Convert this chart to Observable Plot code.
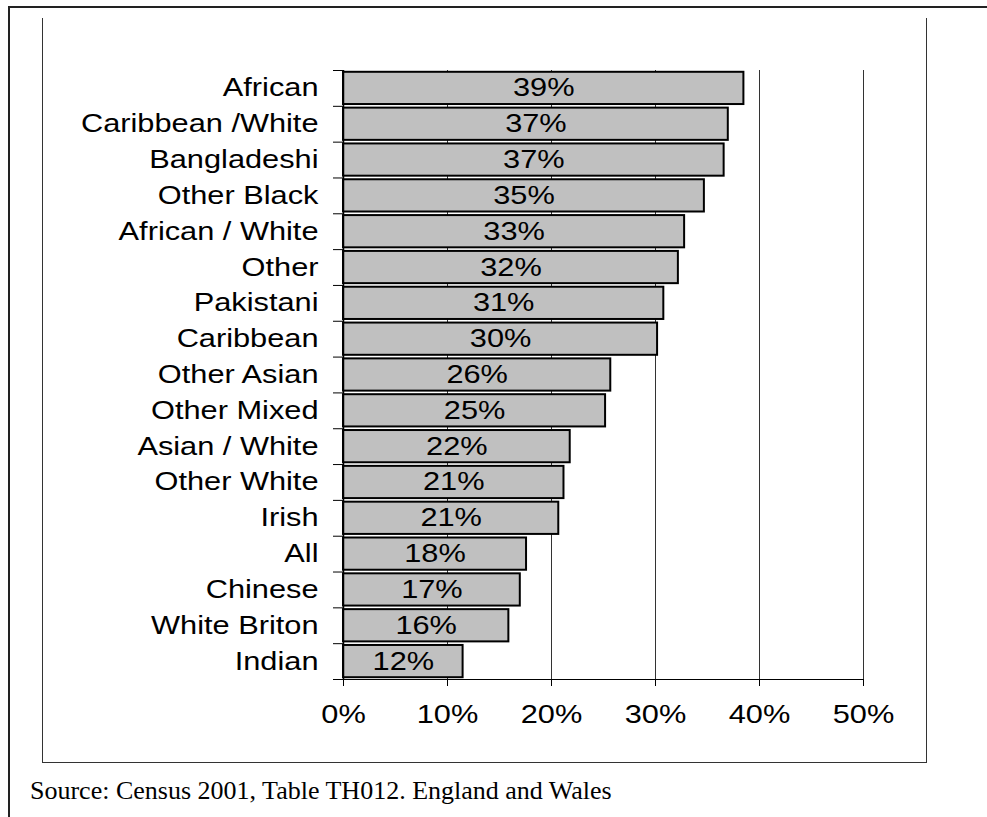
<!DOCTYPE html>
<html><head><meta charset="utf-8">
<script src="https://cdn.jsdelivr.net/npm/d3@7"></script>
<script src="https://cdn.jsdelivr.net/npm/@observablehq/plot@0.6"></script>
<style>
html,body{margin:0;padding:0;background:#fff;}
#page{position:relative;width:987px;height:817px;overflow:hidden;background:#fff;}
#frame{position:absolute;left:8px;top:6px;width:1000px;height:830px;border-left:2px solid #222;border-top:2px solid #222;}
#box{position:absolute;left:42px;top:18px;width:883px;height:744px;border-left:1.5px solid #333;border-right:1.5px solid #333;border-bottom:1.5px solid #333;}
#chart{position:absolute;left:44px;top:18px;width:883px;height:744px;}
#caption{position:absolute;left:30px;top:778px;font-family:"Liberation Serif","Times New Roman",serif;font-size:26px;line-height:26px;color:#000;white-space:nowrap;}
</style></head>
<body>
<div id="page">
  <div id="frame"></div>
  <div id="box"></div>
  <div id="chart"></div>
  <div id="caption">Source: Census 2001, Table TH012. England and Wales</div>
</div>
<script>
const categories = ["African","Caribbean /White","Bangladeshi","Other Black","African / White","Other","Pakistani","Caribbean","Other Asian","Other Mixed","Asian / White","Other White","Irish","All","Chinese","White Briton","Indian"];
const values = [38.5,37.0,36.6,34.7,32.8,32.2,30.8,30.2,25.7,25.2,21.8,21.2,20.7,17.6,17.0,15.9,11.5];
const xTicks = [0,10,20,30,40,50];
const gridValues = [10,20,30,40,50];

const data = categories.map((c,i)=>({cat:c, value: values[i]}));

const W = 883, H = 744, ml = 299, mr = 64, mt = 52, mb = 83;
const step = (H - mt - mb) / categories.length;
const tickUnits = 10 / ((W - ml - mr) / 50);
const fs = 25, stretch = 1.23;

const plot = Plot.plot({
  width: W, height: H,
  marginLeft: ml, marginRight: mr, marginTop: mt, marginBottom: mb,
  style: {fontFamily: '"Liberation Sans", Arial, sans-serif', fontSize: fs + "px", color: "#000", background: "transparent", overflow: "visible"},
  x: {domain: [0, 50], label: null},
  y: {domain: categories, paddingInner: 0.1, paddingOuter: 0.05, round: false, label: null},
  marks: [
    Plot.ruleX(gridValues, {stroke: "#333", strokeWidth: 1}),
    Plot.barX(data, {y: "cat", x: "value", fill: "#c0c0c0", stroke: "#000", strokeWidth: 2}),
    Plot.ruleX([0], {stroke: "#000", strokeWidth: 1.5}),
    Plot.ruleY(categories, {y: d => d, dy: -step / 2, x1: -tickUnits, x2: 0, stroke: "#000", strokeWidth: 1}),
    Plot.ruleY([categories[categories.length - 1]], {y: d => d, dy: step / 2, x1: -tickUnits, x2: 50, stroke: "#000", strokeWidth: 1}),
    Plot.axisY({tickSize: 0, tickPadding: 25, label: null, fill: "#000"}),
    Plot.axisX({ticks: xTicks, tickSize: 7, tickPadding: 19, tickFormat: d => d + "%", label: null, stroke: "#000", fill: "#000"}),
    Plot.text(data, {y: "cat", x: d => d.value / 2, text: d => Math.round(d.value) + "%", fill: "#000"})
  ]
});

document.getElementById("chart").appendChild(plot);

// the reference's chart text is horizontally stretched
plot.querySelectorAll("text").forEach(t => {
  const b = t.getBBox();
  const anchor = getComputedStyle(t).textAnchor;
  const ax = anchor === "end" ? b.x + b.width : anchor === "middle" ? b.x + b.width / 2 : b.x;
  const tr = t.getAttribute("transform") || "";
  t.setAttribute("transform", `${tr} translate(${ax},0) scale(${stretch},1) translate(${-ax},0)`);
});
</script>
</body></html>
